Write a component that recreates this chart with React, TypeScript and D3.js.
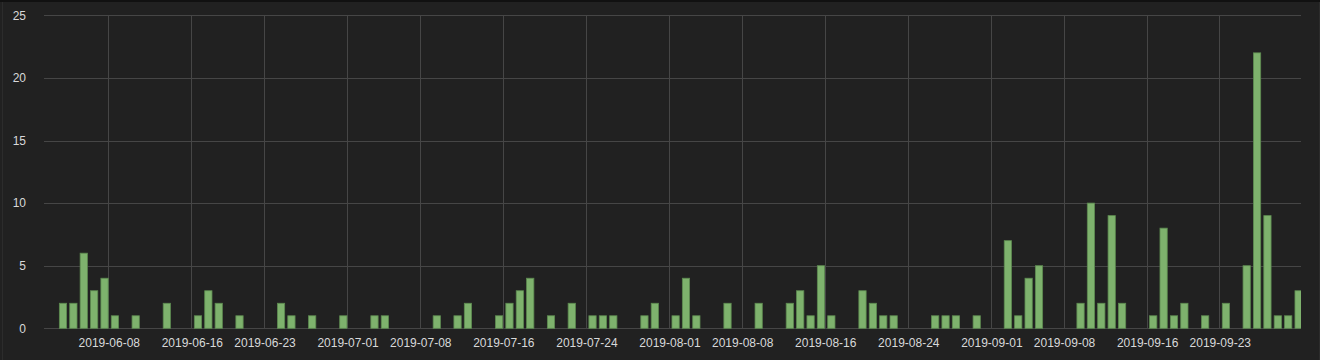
import React from "react";
import * as d3 from "d3";

const dates: string[] = [
  "2019-06-03","2019-06-04","2019-06-05","2019-06-06","2019-06-07","2019-06-08","2019-06-10","2019-06-13",
  "2019-06-16","2019-06-17","2019-06-18","2019-06-20","2019-06-24","2019-06-25","2019-06-27","2019-06-30",
  "2019-07-03","2019-07-04","2019-07-09","2019-07-11","2019-07-12","2019-07-15","2019-07-16","2019-07-17",
  "2019-07-18","2019-07-20","2019-07-22","2019-07-24","2019-07-25","2019-07-26","2019-07-29","2019-07-30",
  "2019-08-01","2019-08-02","2019-08-03","2019-08-06","2019-08-09","2019-08-12","2019-08-13","2019-08-14",
  "2019-08-15","2019-08-16","2019-08-19","2019-08-20","2019-08-21","2019-08-22","2019-08-26","2019-08-27",
  "2019-08-28","2019-08-30","2019-09-02","2019-09-03","2019-09-04","2019-09-05","2019-09-09","2019-09-10",
  "2019-09-11","2019-09-12","2019-09-13","2019-09-16","2019-09-17","2019-09-18","2019-09-19","2019-09-21",
  "2019-09-23","2019-09-25","2019-09-26","2019-09-27","2019-09-28","2019-09-29","2019-09-30",
];
const counts: number[] = [
  2,2,6,3,4,1,1,2,
  1,3,2,1,2,1,1,1,
  1,1,1,1,2,1,2,3,
  4,1,2,1,1,1,1,2,
  1,4,1,2,2,2,3,1,
  5,1,3,2,1,1,1,1,
  1,1,7,1,4,5,2,10,
  2,9,2,1,8,1,2,1,
  2,5,22,9,1,1,3,
];
const xTickLabels: string[] = [
  "2019-06-08","2019-06-16","2019-06-23","2019-07-01","2019-07-08","2019-07-16","2019-07-24","2019-08-01",
  "2019-08-08","2019-08-16","2019-08-24","2019-09-01","2019-09-08","2019-09-16","2019-09-23",
];
const yTicks: number[] = [0, 5, 10, 15, 20, 25];

const W = 1320;
const H = 360;
const plotLeft = 44;
const plotRight = 1301;
const plotTop = 15.3;
const plotBottom = 328.3;

const parse = (s: string) => new Date(s + "T00:00:00Z");

export default function App() {
  const x = d3
    .scaleUtc()
    .domain([parse("2019-06-08"), parse("2019-09-23")])
    .range([109.3, 1220.3]);
  const y = d3.scaleLinear().domain([0, 25]).range([plotBottom, plotTop]);
  const day = x(parse("2019-06-09")) - x(parse("2019-06-08"));
  const barW = day * 0.7;
  const barOff = day * 0.19;
  const textColor = "#d8d9da";
  const gridColor = "#464646";
  const font = "'Liberation Sans', Arial, sans-serif";

  return (
    <svg
      width={W}
      height={H}
      style={{ position: "fixed", left: 0, top: 0, display: "block" }}
    >
      <rect x={0} y={0} width={W} height={H} fill="#212121" />
      <rect x={0} y={0} width={W} height={2} fill="#111111" />
      <rect x={2} y={2} width={1} height={H - 2} fill="#2c2c2c" />
      <rect x={W - 1} y={2} width={1} height={H - 2} fill="#2c2c2c" />
      <defs>
        <clipPath id="plotclip">
          <rect x={plotLeft} y={0} width={plotRight - plotLeft} height={plotBottom + 1} />
        </clipPath>
      </defs>
      {yTicks.map((t) => (
        <g key={"y" + t}>
          <line
            x1={plotLeft}
            x2={plotRight}
            y1={Math.round(y(t)) + 0.5}
            y2={Math.round(y(t)) + 0.5}
            stroke={gridColor}
            strokeWidth={1}
          />
          <text
            x={26}
            y={y(t)}
            dy="0.35em"
            textAnchor="end"
            fill={textColor}
            fontFamily={font}
            fontSize={12}
          >
            {t}
          </text>
        </g>
      ))}
      {xTickLabels.map((s) => {
        const xp = Math.round(x(parse(s))) - 0.5;
        return (
          <g key={s}>
            <line x1={xp} x2={xp} y1={plotTop} y2={plotBottom} stroke={gridColor} strokeWidth={1} />
            <text
              x={x(parse(s))}
              y={347}
              textAnchor="middle"
              fill={textColor}
              fontFamily={font}
              fontSize={12}
            >
              {s}
            </text>
          </g>
        );
      })}
      <g clipPath="url(#plotclip)">
        {dates.map((d, i) => {
          const x0 = x(parse(d)) + barOff;
          const top = y(counts[i]);
          return (
            <rect
              key={d}
              x={x0}
              y={top}
              width={barW}
              height={plotBottom - top}
              fill="#7eb26d"
              stroke="#5d8a50"
              strokeWidth={0.8}
            />
          );
        })}
      </g>
    </svg>
  );
}
